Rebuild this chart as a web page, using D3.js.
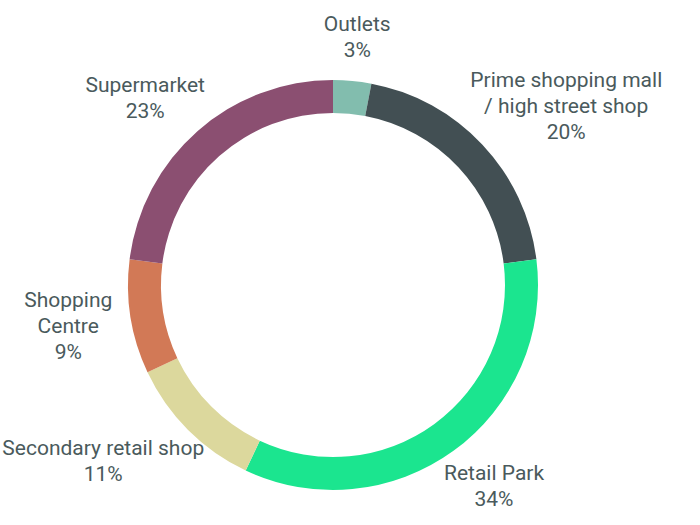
<!DOCTYPE html>
<html lang='en'>
<head>
    <title>Retail shares</title>
    <meta charset='UTF-8'>
    <script src='https://d3js.org/d3.v7.min.js'></script>
    <style>
        body { margin: 0; background: #fff; }
        text { font-family: Roboto, 'Noto Sans', sans-serif; fill: #4a5a5c; }
    </style>
</head>
<body>
<div id='viz'>
    <svg style='width:700px;height:525px'></svg>
</div>

<script>
// chart data
const categories = ['Outlets', 'Prime shopping mall / high street shop', 'Retail Park',
                    'Secondary retail shop', 'Shopping Centre', 'Supermarket']
const shares = [3, 20, 34, 11, 9, 23]
// how each label breaks onto lines
const labelLines = [['Outlets'], ['Prime shopping mall', '/ high street shop'], ['Retail Park'],
                    ['Secondary retail shop'], ['Shopping', 'Centre'], ['Supermarket']]
const colors = ['#82bdae', '#424f53', '#1be58f', '#dcd89d', '#d27956', '#8b4f71']

const width = 700, height = 525
const cx = 333, cy = 285
const outerR = 205, innerR = 172
const labelR = 224, lineH = 26

let data = categories.map((c, i) => ({ name: c, value: shares[i], lines: labelLines[i], color: colors[i] }))

let svg = d3.select('svg')
let g = svg.append('g').attr('transform', `translate(${cx},${cy})`)

let pie = d3.pie().sort(null).value(d => d.value)
let arc = d3.arc().innerRadius(innerR).outerRadius(outerR)
let arcs = pie(data)

g.selectAll('path.slice')
  .data(arcs).enter()
  .append('path')
    .attr('class', 'slice')
    .attr('d', arc)
    .attr('fill', d => d.data.color)

// labels: a block of lines, its corner pulled toward the anchor point on the ring
let labelG = g.selectAll('g.label')
  .data(arcs).enter()
  .append('g')
    .attr('class', 'label')

labelG.each(function(d) {
  let sel = d3.select(this)
  let lines = d.data.lines.concat([d.data.value + '%'])
  let t = sel.append('text').style('font-size', '21px').attr('text-anchor', 'middle')
  lines.forEach((l, i) => {
    t.append('tspan').attr('x', 0).attr('y', i * lineH).text(l)
  })
  let bb = t.node().getBBox()
  let mid = (d.startAngle + d.endAngle) / 2
  let s = Math.sin(mid), c = Math.cos(mid)
  let ax = labelR * s, ay = -labelR * c
  let bx = ax + bb.width / 2 * s
  let by = ay - bb.height / 2 * c
  // shift so the block's centre lands on (bx, by)
  let ox = bx - (bb.x + bb.width / 2)
  let oy = by - (bb.y + bb.height / 2)
  sel.attr('transform', `translate(${ox},${oy})`)
})
</script>
</body>
</html>
